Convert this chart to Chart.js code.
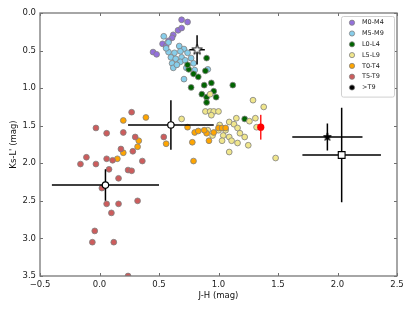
<!DOCTYPE html>
<html>
<head>
<meta charset="utf-8">
<script src="https://cdn.jsdelivr.net/npm/chart.js@4.4.1/dist/chart.umd.min.js"></script>
<style>
    html, body { margin: 0; padding: 0; background: #fff; }
</style>
</head>
<body>
<canvas id="chart" width="415" height="311"></canvas>
<script>
// Axis ranges / ticks
const xTicks = [-0.5, 0.0, 0.5, 1.0, 1.5, 2.0, 2.5];
const yTicks = [0.0, 0.5, 1.0, 1.5, 2.0, 2.5, 3.0, 3.5];

// Spectral type groups (J-H, Ks-L')
const m0m4X = [0.69, 0.74, 0.66, 0.69, 0.62, 0.61, 0.58, 0.53, 0.56, 0.45, 0.48];
const m0m4Y = [0.09, 0.12, 0.23, 0.20, 0.29, 0.33, 0.37, 0.41, 0.44, 0.52, 0.55];

const m5m9X = [0.54, 0.58, 0.67, 0.71, 0.58, 0.63, 0.68, 0.69, 0.60, 0.64, 0.61, 0.68, 0.62, 0.73, 0.74, 0.77, 0.79, 0.80, 0.91, 0.71, 0.65, 0.56, 0.72];
const m5m9Y = [0.31, 0.39, 0.44, 0.48, 0.52, 0.53, 0.51, 0.59, 0.59, 0.61, 0.67, 0.65, 0.73, 0.73, 0.53, 0.60, 0.67, 0.76, 0.75, 0.88, 0.69, 0.47, 0.63];

const l0l4X = [0.90, 0.89, 0.75, 0.79, 0.83, 0.77, 0.94, 0.88, 1.12, 0.96, 0.86, 0.90, 0.98, 0.90, 1.22, 0.74];
const l0l4Y = [0.60, 0.77, 0.75, 0.81, 0.85, 0.99, 0.93, 0.96, 0.96, 1.04, 1.08, 1.12, 1.12, 1.19, 1.41, 0.69];

const l5l9X = [1.29, 1.38, 0.93, 0.89, 0.93, 0.96, 1.00, 0.94, 0.69, 1.15, 1.09, 1.13, 1.26, 1.31, 1.32, 0.91, 0.95, 1.00, 1.01, 1.04, 1.09, 1.03, 1.11, 1.16, 1.18, 1.22, 1.16, 1.25, 1.09, 1.48, 1.06];
const l5l9Y = [1.16, 1.25, 1.08, 1.31, 1.31, 1.31, 1.31, 1.36, 1.41, 1.40, 1.45, 1.48, 1.44, 1.40, 1.52, 1.56, 1.63, 1.56, 1.49, 1.63, 1.65, 1.70, 1.70, 1.53, 1.60, 1.65, 1.73, 1.76, 1.85, 1.93, 1.56];

const t0t4X = [0.20, 0.39, 0.33, 0.32, 0.15, 0.20, 0.56, 0.74, 0.80, 0.83, 0.90, 0.88, 1.00, 1.03, 1.06, 0.78, 0.92, 0.79, 0.96];
const t0t4Y = [1.43, 1.39, 1.70, 1.78, 1.94, 1.86, 1.74, 1.52, 1.59, 1.57, 1.60, 1.56, 1.53, 1.53, 1.53, 1.72, 1.70, 1.97, 1.59];

const t5t9X = [0.27, -0.03, 0.06, 0.20, 0.30, 0.18, 0.28, -0.11, -0.16, -0.03, 0.06, 0.11, 0.08, 0.16, 0.24, 0.27, 0.02, 0.06, 0.16, 0.10, 0.32, -0.04, -0.06, 0.12, 0.24, 0.54, 0.36];
const t5t9Y = [1.32, 1.53, 1.60, 1.59, 1.65, 1.81, 1.84, 1.92, 2.01, 2.01, 1.94, 1.96, 2.08, 2.20, 2.09, 2.10, 2.33, 2.54, 2.54, 2.66, 2.50, 2.90, 3.05, 3.05, 3.50, 1.65, 1.97];

// Individual objects with error bars
const whiteStar = { x: [0.82], y: [0.49], ex: [0.065], ey: [0.195] };
const openCircles = { x: [0.60, 0.05], y: [1.49, 2.29], ex: [0.36, 0.45], ey: [0.33, 0.21] };
const blackStar = { x: [1.915], y: [1.65], ex: [0.295], ey: [0.18] };
const openSquare = { x: [2.035], y: [1.89], ex: [0.33], ey: [0.63] };
const redPoint = { x: [1.355], y: [1.52], ex: [0], ey: [0.165] };

const FONT = 'DejaVu Sans';
const toPts = (xs, ys) => xs.map((x, i) => ({ x, y: ys[i] }));

function starImage(size, fill, stroke, lw) {
    const c = document.createElement('canvas');
    c.width = c.height = size;
    const g = c.getContext('2d');
    const R = size / 2 - lw, r = R * 0.4;
    g.beginPath();
    for (let i = 0; i < 10; i++) {
        const a = -Math.PI / 2 + i * Math.PI / 5;
        const rr = i % 2 ? r : R;
        g.lineTo(size / 2 + rr * Math.cos(a), size / 2 + rr * Math.sin(a));
    }
    g.closePath();
    g.fillStyle = fill;
    g.fill();
    g.lineWidth = lw;
    g.strokeStyle = stroke;
    g.stroke();
    return c;
}

const groups = [
    { label: 'M0-M4', xs: m0m4X, ys: m0m4Y, color: '#9370db' },
    { label: 'M5-M9', xs: m5m9X, ys: m5m9Y, color: '#87ceeb' },
    { label: 'L0-L4', xs: l0l4X, ys: l0l4Y, color: '#006400' },
    { label: 'L5-L9', xs: l5l9X, ys: l5l9Y, color: '#f0e68c' },
    { label: 'T0-T4', xs: t0t4X, ys: t0t4Y, color: '#ffa500' },
    { label: 'T5-T9', xs: t5t9X, ys: t5t9Y, color: '#cd5c5c' },
    { label: '>T9', xs: [], ys: [], color: '#000000' }
];

const datasets = groups.map((g, i) => ({
    label: g.label,
    data: toPts(g.xs, g.ys),
    backgroundColor: g.color,
    borderColor: '#808080',
    borderWidth: 0.8,
    pointRadius: 2.9,
    legend: true,
    clip: 0,
    order: 20 - i
}));

function special(obj, style) {
    return Object.assign({
        data: toPts(obj.x, obj.y),
        errX: obj.ex,
        errY: obj.ey,
        barColor: '#000',
        clip: 0,
        order: 1
    }, style);
}

datasets.push(
    special(whiteStar, { pointStyle: starImage(13, '#fff', '#000', 1), pointRadius: 6 }),
    special(openCircles, { pointStyle: 'circle', pointRadius: 3.2, backgroundColor: '#fff', borderColor: '#000', borderWidth: 1.2 }),
    special(blackStar, { pointStyle: starImage(10, '#000', '#000', 0.8), pointRadius: 5 }),
    special(openSquare, { pointStyle: 'rect', pointRadius: 4.8, backgroundColor: '#fff', borderColor: '#000', borderWidth: 1.1 }),
    special(redPoint, { pointStyle: 'circle', pointRadius: 3.6, backgroundColor: '#ff0000', borderWidth: 0, barColor: '#ff2020' })
);

// Error bars, drawn right before their own marker
const errorBars = {
    id: 'errorBars',
    beforeDatasetDraw(chart, args) {
        const ds = chart.data.datasets[args.index];
        if (!ds.errX) return;
        const { ctx, chartArea: a, scales: { x, y } } = chart;
        ctx.save();
        ctx.beginPath();
        ctx.rect(a.left, a.top, a.right - a.left, a.bottom - a.top);
        ctx.clip();
        ctx.strokeStyle = ds.barColor;
        ctx.lineWidth = 1.5;
        ds.data.forEach((p, i) => {
            const px = x.getPixelForValue(p.x), py = y.getPixelForValue(p.y);
            ctx.beginPath();
            if (ds.errX[i]) {
                ctx.moveTo(x.getPixelForValue(p.x - ds.errX[i]), py);
                ctx.lineTo(x.getPixelForValue(p.x + ds.errX[i]), py);
            }
            if (ds.errY[i]) {
                ctx.moveTo(px, y.getPixelForValue(p.y - ds.errY[i]));
                ctx.lineTo(px, y.getPixelForValue(p.y + ds.errY[i]));
            }
            ctx.stroke();
        });
        ctx.restore();
    }
};

// Frame with inward ticks on all four sides
const frame = {
    id: 'frame',
    afterDatasetsDraw(chart) {
        const { ctx, chartArea: a, scales: { x, y } } = chart;
        ctx.save();
        ctx.strokeStyle = '#6e6e6e';
        ctx.lineWidth = 1;
        ctx.beginPath();
        x.ticks.forEach(t => {
            const px = Math.round(x.getPixelForValue(t.value)) + 0.5;
            ctx.moveTo(px, a.top); ctx.lineTo(px, a.top + 3);
            ctx.moveTo(px, a.bottom); ctx.lineTo(px, a.bottom - 3);
        });
        y.ticks.forEach(t => {
            const py = Math.round(y.getPixelForValue(t.value)) + 0.5;
            ctx.moveTo(a.left, py); ctx.lineTo(a.left + 3, py);
            ctx.moveTo(a.right, py); ctx.lineTo(a.right - 3, py);
        });
        ctx.stroke();
        ctx.lineWidth = 1.3;
        ctx.strokeStyle = '#777';
        ctx.strokeRect(a.left, a.top, a.right - a.left, a.bottom - a.top);
        ctx.restore();
    }
};

// Legend box in the upper right of the plot
const cornerLegend = {
    id: 'cornerLegend',
    afterDraw(chart) {
        const { ctx, chartArea: a } = chart;
        const items = chart.data.datasets.filter(d => d.legend);
        const w = 53, rowH = 10.8, h = items.length * rowH + 5;
        const left = a.right - 3 - w, top = a.top + 3;
        ctx.save();
        ctx.fillStyle = '#fff';
        ctx.strokeStyle = '#d0d0d0';
        ctx.lineWidth = 1;
        ctx.beginPath();
        ctx.roundRect(left + 0.5, top + 0.5, w, h, 2);
        ctx.fill();
        ctx.stroke();
        ctx.font = `6.5px "${FONT}"`;
        ctx.textBaseline = 'middle';
        items.forEach((d, i) => {
            const cy = top + 6.7 + i * rowH;
            ctx.beginPath();
            ctx.arc(left + 11, cy, 2.6, 0, Math.PI * 2);
            ctx.fillStyle = d.backgroundColor;
            ctx.fill();
            ctx.lineWidth = 0.8;
            ctx.strokeStyle = '#808080';
            ctx.stroke();
            ctx.fillStyle = '#222';
            ctx.fillText(d.label, left + 21, cy);
        });
        ctx.restore();
    }
};

const fmt = v => (v < 0 ? '\u2212' : '') + Math.abs(v).toFixed(1);

new Chart(document.getElementById('chart'), {
    type: 'scatter',
    data: { datasets },
    options: {
        responsive: false,
        animation: false,
        layout: { padding: { left: 0, top: 13, right: 18, bottom: 0 } },
        plugins: { legend: { display: false }, tooltip: { enabled: false } },
        scales: {
            x: {
                type: 'linear',
                min: xTicks[0],
                max: xTicks[xTicks.length - 1],
                afterBuildTicks: s => { s.ticks = xTicks.map(v => ({ value: v })); },
                afterFit: s => { s.height = 35; },
                grid: { display: false, drawTicks: false },
                border: { display: false },
                ticks: { autoSkip: false, maxRotation: 0, padding: 4, color: '#222', font: { family: FONT, size: 8.5 }, callback: fmt },
                title: { display: true, text: 'J-H (mag)', color: '#111', padding: { top: 0, bottom: 10 }, font: { family: FONT, size: 8.5 } }
            },
            y: {
                type: 'linear',
                reverse: true,
                min: yTicks[0],
                max: yTicks[yTicks.length - 1],
                afterBuildTicks: s => { s.ticks = yTicks.map(v => ({ value: v })); },
                afterFit: s => { s.width = 40; },
                grid: { display: false, drawTicks: false },
                border: { display: false },
                ticks: { autoSkip: false, padding: 4, color: '#222', font: { family: FONT, size: 8.5 }, callback: fmt },
                title: { display: true, text: "Ks-L' (mag)", color: '#111', padding: { top: 9, bottom: 0 }, font: { family: FONT, size: 8.5 } }
            }
        }
    },
    plugins: [errorBars, frame, cornerLegend]
});
</script>
</body>
</html>
